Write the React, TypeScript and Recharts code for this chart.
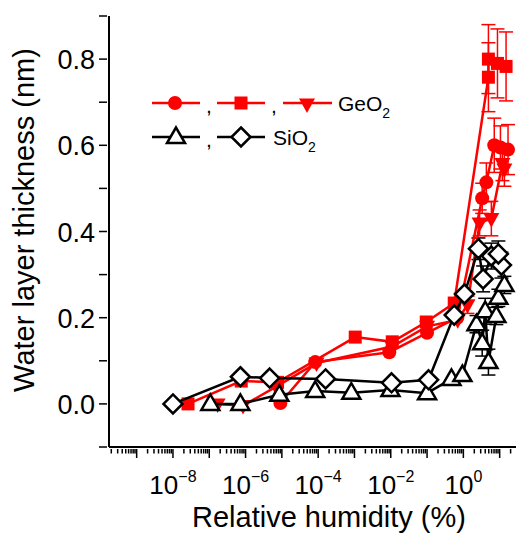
import { ComposedChart, Scatter, XAxis, YAxis, ErrorBar } from 'recharts';

const FONT = '"Liberation Sans", Arial, Helvetica, sans-serif';
const RED = '#ff0000';
const BLACK = '#000000';

// humidity (%) vs water layer thickness (nm)
const geCircle = [
  { x: 9.1e-6, y: 0.002 },
  { x: 8.3e-5, y: 0.097 },
  { x: 9.1e-3, y: 0.12 },
  { x: 0.1, y: 0.165 },
  { x: 0.68, y: 0.2 },
  { x: 3.3, y: 0.477, err: 0.035 },
  { x: 4.3, y: 0.514, err: 0.045 },
  { x: 7.1, y: 0.6, err: 0.063 },
  { x: 10.5, y: 0.595, err: 0.05 },
  { x: 17, y: 0.59, err: 0.058 },
];

const geSquare = [
  { x: 2.6e-8, y: 0.0 },
  { x: 7.6e-7, y: 0.053 },
  { x: 7.6e-6, y: 0.05 },
  { x: 1.05e-3, y: 0.155 },
  { x: 1.1e-2, y: 0.144 },
  { x: 0.095, y: 0.19 },
  { x: 0.56, y: 0.234 },
  { x: 4.9, y: 0.758, err: 0.08 },
  { x: 4.9, y: 0.8, err: 0.08 },
  { x: 8.7, y: 0.79, err: 0.08 },
  { x: 15, y: 0.783, err: 0.08 },
];

const geTriangle = [
  { x: 1.7e-7, y: 0.0 },
  { x: 8.5e-7, y: -0.004 },
  { x: 7e-6, y: 0.04 },
  { x: 9e-5, y: 0.095 },
  { x: 1.1e-2, y: 0.133 },
  { x: 0.1, y: 0.18 },
  { x: 0.7, y: 0.195 },
  { x: 1.3, y: 0.23, err: 0.02 },
  { x: 2.8, y: 0.42, err: 0.03 },
  { x: 5.9, y: 0.43, err: 0.04 },
  { x: 11.9, y: 0.558, err: 0.04 },
  { x: 13.5, y: 0.545, err: 0.04 },
];

const siTriangle = [
  { x: 1.07e-7, y: 0.0 },
  { x: 7.2e-7, y: 0.0 },
  { x: 8.5e-6, y: 0.021 },
  { x: 8.3e-5, y: 0.03 },
  { x: 8.2e-4, y: 0.026 },
  { x: 9.8e-3, y: 0.032 },
  { x: 0.1, y: 0.025 },
  { x: 0.47, y: 0.058 },
  { x: 0.94, y: 0.067 },
  { x: 2.3, y: 0.185, err: 0.02 },
  { x: 3.3, y: 0.141, err: 0.03 },
  { x: 4.0, y: 0.215, err: 0.03 },
  { x: 4.9, y: 0.097, err: 0.03 },
  { x: 8.1, y: 0.204, err: 0.02 },
  { x: 9.2, y: 0.246, err: 0.02 },
  { x: 13.5, y: 0.276, err: 0.02 },
];

const siDiamond = [
  { x: 1e-8, y: 0.0 },
  { x: 7.2e-7, y: 0.063 },
  { x: 4.6e-6, y: 0.06 },
  { x: 1.6e-4, y: 0.058 },
  { x: 1.05e-2, y: 0.049 },
  { x: 0.11, y: 0.056 },
  { x: 0.56, y: 0.206 },
  { x: 1.07, y: 0.255 },
  { x: 2.6, y: 0.36, err: 0.025 },
  { x: 3.5, y: 0.29, err: 0.03 },
  { x: 5.9, y: 0.343, err: 0.03 },
  { x: 11.2, y: 0.322, err: 0.03 },
  { x: 9.2, y: 0.348, err: 0.03 },
];

const X_MIN = 1.73e-10;
const X_MAX = 46.8;
const decades = [-9, -8, -7, -6, -5, -4, -3, -2, -1, 0, 1];
const labeledDecades = [-8, -6, -4, -2, 0];
const xTicks: number[] = [];
for (const d of [-10, ...decades]) {
  for (let k = 1; k <= 9; k++) {
    const v = k * Math.pow(10, d);
    if (v >= X_MIN && v <= X_MAX) xTicks.push(v);
  }
}
const yTicks = [-0.1, 0, 0.1, 0.2, 0.3, 0.4, 0.5, 0.6, 0.7, 0.8, 0.9];
const yLabels = [0, 0.2, 0.4, 0.6, 0.8];

function Marker({ cx, cy, kind }: { cx: number; cy: number; kind: string }) {
  if (cx == null || cy == null) return null;
  if (kind === 'circle') return <circle cx={cx} cy={cy} r={7} fill={RED} />;
  if (kind === 'square') return <rect x={cx - 6.5} y={cy - 6.5} width={13} height={13} fill={RED} />;
  if (kind === 'down')
    return <polygon points={`${cx - 8},${cy - 5.5} ${cx + 8},${cy - 5.5} ${cx},${cy + 9}`} fill={RED} />;
  if (kind === 'up')
    return (
      <polygon
        points={`${cx},${cy - 9.5} ${cx - 9},${cy + 6} ${cx + 9},${cy + 6}`}
        fill="#fff"
        stroke={BLACK}
        strokeWidth={2.5}
      />
    );
  return (
    <polygon
      points={`${cx},${cy - 9.5} ${cx + 9.5},${cy} ${cx},${cy + 9.5} ${cx - 9.5},${cy}`}
      fill="#fff"
      stroke={BLACK}
      strokeWidth={2.5}
    />
  );
}

function XTick(props: any) {
  const { x, y, payload } = props;
  const lg = Math.log10(payload.value);
  const isDecade = Math.abs(lg - Math.round(lg)) < 1e-6;
  const len = isDecade ? 9 : 4.5;
  const d = Math.round(lg);
  return (
    <g>
      <line x1={x} x2={x} y1={y} y2={y + len} stroke={BLACK} strokeWidth={1.5} />
      {isDecade && labeledDecades.includes(d) && (
        <text x={x} y={y + 45} textAnchor="middle" fontFamily={FONT} fontSize={26} fill={BLACK}>
          <tspan>10</tspan>
          <tspan dy={-12} fontSize={16}>{d < 0 ? `\u2212${-d}` : `${d}`}</tspan>
        </text>
      )}
    </g>
  );
}

function YTick(props: any) {
  const { x, y, payload } = props;
  const v = payload.value;
  const labeled = yLabels.some((l) => Math.abs(l - v) < 1e-6);
  return (
    <g>
      <line x1={x} x2={x - 8} y1={y} y2={y} stroke={BLACK} strokeWidth={1.5} />
      {labeled && (
        <text x={x - 12} y={y + 10} textAnchor="end" fontFamily={FONT} fontSize={27} fill={BLACK}>
          {v.toFixed(1)}
        </text>
      )}
    </g>
  );
}

function LegendOverlay() {
  const seg = (x1: number, x2: number, y: number, color: string) => (
    <line x1={x1} x2={x2} y1={y} y2={y} stroke={color} strokeWidth={2.5} />
  );
  return (
    <svg width={516} height={526} style={{ position: 'absolute', left: 0, top: 0, pointerEvents: 'none' }}>
      {seg(144, 192, 95, RED)}
      <Marker cx={167} cy={95} kind="circle" />
      <text x={198} y={105} fontFamily={FONT} fontSize={21}>,</text>
      {seg(209, 257, 95, RED)}
      <Marker cx={233} cy={95} kind="square" />
      <text x={263} y={105} fontFamily={FONT} fontSize={21}>,</text>
      {seg(275, 324, 95, RED)}
      <Marker cx={299} cy={96} kind="down" />
      <text x={330} y={103} fontFamily={FONT} fontSize={21}>
        GeO<tspan dy={7} fontSize={14}>2</tspan>
      </text>

      {seg(144, 192, 129, BLACK)}
      <Marker cx={168} cy={129} kind="up" />
      <text x={198} y={139} fontFamily={FONT} fontSize={21}>,</text>
      {seg(209, 257, 129, BLACK)}
      <Marker cx={233} cy={129} kind="diamond" />
      <text x={265} y={137} fontFamily={FONT} fontSize={21}>
        SiO<tspan dy={7} fontSize={14}>2</tspan>
      </text>

      <text
        x={0}
        y={0}
        transform="translate(26, 212) rotate(-90)"
        textAnchor="middle"
        fontFamily={FONT}
        fontSize={29}
      >
        Water layer thickness (nm)
      </text>
      <text x={321} y={519} textAnchor="middle" fontFamily={FONT} fontSize={29}>
        Relative humidity (%)
      </text>
    </svg>
  );
}

export default function App() {
  const series = [
    { data: geCircle, kind: 'circle', color: RED },
    { data: geSquare, kind: 'square', color: RED },
    { data: geTriangle, kind: 'down', color: RED },
    { data: siTriangle, kind: 'up', color: BLACK },
    { data: siDiamond, kind: 'diamond', color: BLACK },
  ];
  return (
    <div style={{ position: 'relative', width: 516, height: 526 }}>
      <ComposedChart width={516} height={526} margin={{ top: 8, right: 0, bottom: 0, left: 0 }}>
        <XAxis
          dataKey="x"
          type="number"
          scale="log"
          domain={[X_MIN, X_MAX]}
          allowDataOverflow
          ticks={xTicks}
          interval={0}
          tick={(p: any) => <XTick {...p} />}
          tickLine={false}
          tickSize={0}
          axisLine={{ stroke: BLACK, strokeWidth: 2 }}
          height={87}
        />
        <YAxis
          dataKey="y"
          type="number"
          domain={[-0.1, 0.9]}
          allowDataOverflow
          ticks={yTicks}
          interval={0}
          tick={(p: any) => <YTick {...p} />}
          tickLine={false}
          tickSize={0}
          axisLine={{ stroke: BLACK, strokeWidth: 2 }}
          width={101}
        />
        {series.map((s, i) => (
          <Scatter
            key={i}
            data={s.data}
            fill={s.color}
            line={{ stroke: s.color, strokeWidth: 2.5 }}
            lineType="joint"
            isAnimationActive={false}
            shape={(p: any) => <Marker cx={p.cx} cy={p.cy} kind={s.kind} />}
          >
            <ErrorBar dataKey="err" direction="y" width={7} stroke={s.color} strokeWidth={1.5} />
          </Scatter>
        ))}
      </ComposedChart>
      <LegendOverlay />
    </div>
  );
}
